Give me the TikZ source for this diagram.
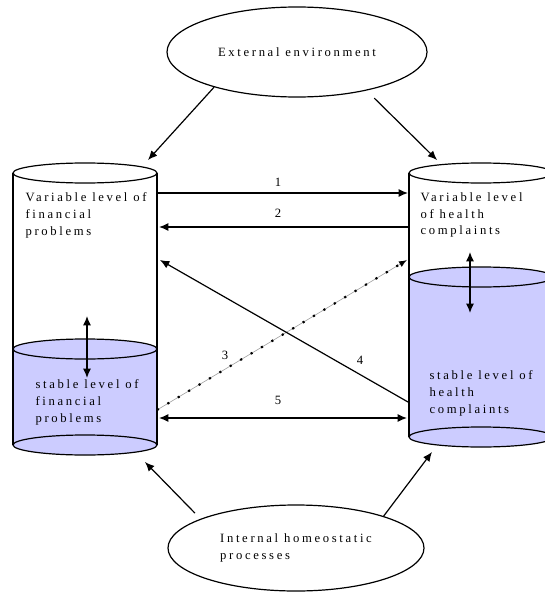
\documentclass[tikz,border=0pt]{standalone}
\usepackage{fontspec}
\setmainfont{Liberation Serif}[LetterSpace=21]
\usetikzlibrary{shapes.geometric,arrows.meta}
\definecolor{stable}{RGB}{204,204,255}
\tikzset{
  lvl/.style={font=\fontsize{9.5}{12.6}\selectfont},
  txt/.style={lvl,anchor=north west,inner sep=0pt,align=left},
  oval/.style={draw,ellipse,line width=0.9pt,inner sep=0pt,lvl,align=left},
  arr/.style={-{Latex[length=7pt,width=6pt]},line width=0.9pt},
  darr/.style={{Latex[length=7pt,width=6pt]}-{Latex[length=7pt,width=6pt]},line width=0.9pt},
  num/.style={lvl,inner sep=0pt}
}
\begin{document}
\begin{tikzpicture}[x=0.75pt,y=-0.75pt,line width=0.9pt]
        \clip (0,0) rectangle (545,592);
        %financial problems
        \fill[stable] (13,349) rectangle (157,445);
        \draw[fill=stable] (85,445) ellipse [x radius=72,y radius=10];
        \draw (13,173) -- (13,445);
        \draw (157,173) -- (157,445);
        \draw[fill=stable] (85,349) ellipse [x radius=72,y radius=10];
        \draw[fill=white] (85,173) ellipse [x radius=72,y radius=10];
        
        %health complaints
        \fill[stable] (409,277) rectangle (553,437);
        \draw[fill=stable] (481,437) ellipse [x radius=72,y radius=10];
        \draw (409,173) -- (409,437);
        \draw (553,173) -- (553,437);
        \draw[fill=stable] (481,277) ellipse [x radius=72,y radius=10];
        \draw[fill=white] (481,173) ellipse [x radius=72,y radius=10];
        
        \node[txt] (finvar) at (25,192) {Variable level of\\financial\\problems};
        \node[txt] (finstab) at (35,379) {stable level of\\financial\\problems};
        \node[txt] (hltvar) at (420,192) {Variable level\\of health\\complaints};
        \node[txt] (hltstab) at (429,370) {stable level of\\health\\complaints};
        
        %ellipses
        \node[oval,minimum width=195pt,minimum height=67.5pt] (env) at (297,52) {External environment};
        \node[oval,minimum width=192pt,minimum height=64.5pt] (ins) at (296,548) {Internal homeostatic\\processes};
        
        \coordinate (finTop) at (148,160);
        \coordinate (hltTop) at (437,160);
        \coordinate (finBot) at (145,462);
        \coordinate (hltBot) at (432,452);
        \draw[arr] (env.-157) -- (finTop);
        \draw[arr,shorten <=8pt] (env.-29) -- (hltTop);
        \draw[arr,shorten <=6pt] (ins.163) -- (finBot);
        \draw[arr] (ins.20) -- (hltBot);
        
        %levels
        \coordinate (finUp) at (87,316);
        \coordinate (finDn) at (87,378);
        \coordinate (hltUp) at (470,252);
        \coordinate (hltDn) at (470,313);
        \draw[darr] (finUp) -- (finDn);
        \draw[darr] (hltUp) -- (hltDn);
        
        %1 to 5
        \coordinate (a1) at (157,193);  \coordinate (b1) at (408,193);
        \coordinate (a2) at (408,227);  \coordinate (b2) at (159,227);
        \coordinate (a3) at (157,410);  \coordinate (b3) at (407,260);
        \coordinate (a4) at (408,402);  \coordinate (b4) at (160,260);
        \coordinate (a5) at (159,418);  \coordinate (b5) at (407,418);
        \draw[arr] (a1) -- (b1);
        \draw[arr] (a2) -- (b2);
        \draw[line width=0.4pt,black!40] (a3) -- (b3);
        \draw[-{Latex[length=6pt,width=5pt]},line width=1.6pt,dash pattern=on 1.6pt off 7.5pt] (a3) -- (b3);
        \draw[arr] (a4) -- (b4);
        \draw[darr] (a5) -- (b5);
        \node[num] (n1) at (278,182) {1};
        \node[num] (n2) at (278,213) {2};
        \node[num] (n3) at (225,355) {3};
        \node[num] (n4) at (360,360) {4};
        \node[num] (n5) at (278,400) {5};
\end{tikzpicture}
\end{document}
